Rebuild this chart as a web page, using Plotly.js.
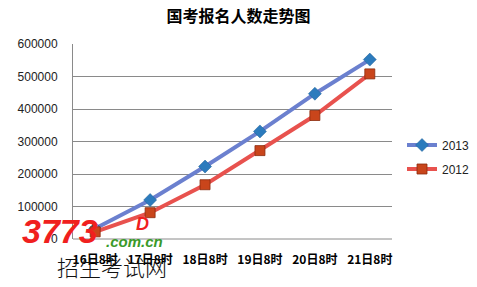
<!DOCTYPE html>
<html><head><meta charset="utf-8">
<script src="https://cdn.plot.ly/plotly-3.0.1.min.js"></script>
<style>html,body{margin:0;padding:0;background:#fff}#c{width:477px;height:287px}</style>
</head><body><div id="c"></div>
<script>
const categories = ["16日8时","17日8时","18日8时","19日8时","20日8时","21日8时"];
const series2013 = [32000, 120000, 223000, 331000, 447000, 552000];
const series2012 = [22000, 81000, 167000, 272000, 380000, 508000];
const yTicks = [0,100000,200000,300000,400000,500000,600000];

const W=477, H=287, L=73, R=392, T=44, B=239;
const px = x => (x-L)/(R-L), py = y => (B-y)/(B-T);

const traces = [
 {x:categories, y:series2013, name:"2013", legendgroup:"a", type:"scatter", mode:"lines+markers",
  line:{color:"#6b80cf", width:4}, marker:{symbol:"diamond", size:10, color:"#2c7bbd", line:{color:"#1f5f95", width:0.5}}},
 {x:categories, y:series2012, name:"2012", legendgroup:"b", type:"scatter", mode:"lines+markers",
  line:{color:"#e8524e", width:4}, marker:{symbol:"square", size:10, color:"#c9451b", line:{color:"#8a2c0e", width:0.8}}}
];
const ann = (x,y,text,font) => ({xref:"paper", yref:"paper", x:px(x), y:py(y), xanchor:"center", yanchor:"middle",
  text, showarrow:false, font});
const layout = {
 width:W, height:H, margin:{l:L, r:W-R, t:T, b:H-B, autoexpand:false},
 paper_bgcolor:"#fff", plot_bgcolor:"#fff",
 title:{text:"<b>国考报名人数走势图</b>", x:0.5, xanchor:"center", y:1-16/H, yanchor:"middle",
   font:{family:"Noto Sans CJK SC", size:16, color:"#000"}},
 xaxis:{type:"category", showgrid:false, showline:false, zeroline:false, ticks:"", ticklabelstandoff:12, automargin:false,
   tickfont:{family:"Noto Sans CJK SC", size:12, color:"#000", weight:"bold"}, fixedrange:true},
 yaxis:{range:[0,600000], tickvals:yTicks, ticktext:yTicks.map(String), showgrid:true, gridcolor:"#8a8a8a", gridwidth:1,
   showline:true, linecolor:"#8a8a8a", linewidth:1, zeroline:false, ticks:"", ticklen:0, ticklabelstandoff:12, automargin:false,
   tickfont:{family:"Liberation Sans", size:12, color:"#222"}, fixedrange:true},
 legend:{xref:"container", yref:"container", x:402/W, y:1-157/H, xanchor:"left", yanchor:"middle",
   font:{family:"Liberation Sans", size:12, color:"#222"},
   bgcolor:"rgba(0,0,0,0)", itemwidth:30, tracegroupgap:5, traceorder:"grouped"},
 showlegend:true,
 shapes:[{type:"line", xref:"paper", yref:"paper", x0:0, x1:1, y0:0, y1:0, line:{color:"#8a8a8a", width:1}}],
 annotations:[
  ann(60,231,"<b><i>3773</i></b>",{family:"Liberation Sans", size:34, color:"#f0201e"}),
  ann(134,241,"<b><i>.com.cn</i></b>",{family:"Liberation Sans", size:15, color:"#3a9a2a"}),
  ann(142,224,"<b><i>D</i></b>",{family:"Liberation Sans", size:18, color:"#f0201e"}),
  ann(112,266,"招生考试网",{family:"Noto Sans CJK SC", size:22, color:"#111", weight:300})
 ]
};
Plotly.newPlot("c", traces, layout, {displayModeBar:false, staticPlot:true});
</script></body></html>
